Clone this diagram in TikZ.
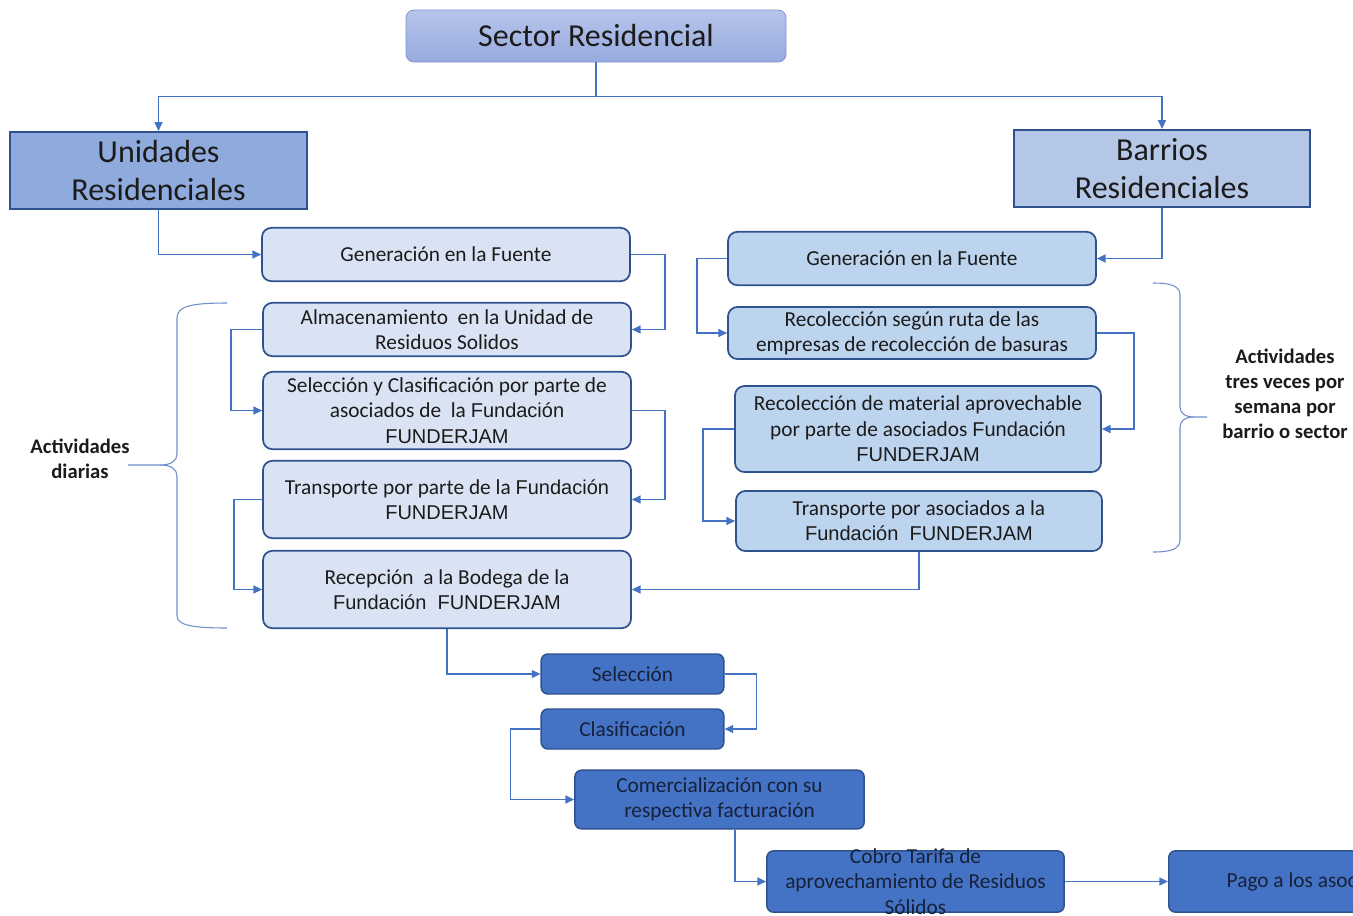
\documentclass[tikz,border=0pt]{standalone}
\usepackage{fontspec}
\setmainfont{Carlito}
\newfontfamily\arialfont{Liberation Sans}
\usepackage{tikz}
\usepackage{xcolor}
\usetikzlibrary{arrows.meta,positioning,calc}
\definecolor{ink}{HTML}{1B1B1B}
\definecolor{navyink}{HTML}{16213A}
\definecolor{edge}{HTML}{2F528F}
\definecolor{link}{HTML}{4472C4}
\definecolor{bracecol}{HTML}{6F8FCB}
\definecolor{roottop}{HTML}{B7C5EC}
\definecolor{rootbot}{HTML}{97AADE}
\definecolor{rootedge}{HTML}{7F93C8}
\definecolor{unidfill}{HTML}{8FAADC}
\definecolor{barrfill}{HTML}{B4C7E7}
\definecolor{dailyfill}{HTML}{DAE3F3}
\definecolor{weeklyfill}{HTML}{BDD4EE}
\definecolor{salefill}{HTML}{4472C4}
\newcommand{\fdn}[1]{{\arialfont\fontsize{15}{19}\selectfont #1}}
\tikzset{
  rootbox/.style={draw=rootedge, top color=roottop, bottom color=rootbot, rounded corners=6pt,
                  line width=0.6pt, text=ink, font=\fontsize{24}{28.5}\selectfont},
  groupbox/.style={draw=edge, line width=1.4pt, align=center, text=ink,
                   font=\fontsize{24}{28.5}\selectfont},
  dailybox/.style={draw=edge, fill=dailyfill, rounded corners=7pt, line width=1.3pt,
                   align=center, text=ink, minimum width=276pt, inner sep=2pt,
                   font=\fontsize{16}{19}\selectfont},
  weeklybox/.style={dailybox, fill=weeklyfill},
  salebox/.style={draw=edge, fill=salefill, rounded corners=5pt, line width=1.1pt,
                  align=center, text=navyink, inner sep=2pt, font=\fontsize{16}{19}\selectfont},
  link/.style={draw=link, line width=1pt},
  arrow/.style={link, -{Triangle[length=6.5pt,width=6pt]}},
  brace/.style={draw=bracecol, line width=0.8pt},
  note/.style={align=center, text=ink, font=\bfseries\fontsize{15.5}{18.7}\selectfont}
}
\begin{document}
\begin{tikzpicture}[x=0.75pt,y=-0.75pt]
  \useasboundingbox (0,0) rectangle (1353,915);
  \clip (0,0) rectangle (1353,915);

  % top of the tree
  \node[rootbox, minimum width=285pt, minimum height=39pt] (sector) at (596,36) {Sector Residencial};
  \node[groupbox, fill=unidfill, minimum width=223pt, minimum height=58pt] (unid) at (158.5,170.5) {Unidades\\Residenciales};
  \node[groupbox, fill=barrfill, minimum width=222pt, minimum height=58pt] (barr) at (1162,168.5) {Barrios\\Residenciales};
  \draw[arrow] (sector.south) -- ++(0,34) -| (unid.north);
  \draw[arrow] (sector.south) -- ++(0,34) -| (barr.north);

  % daily chain (left)
  \node[dailybox, minimum height=40pt] (genL) at (446,254.5) {Generación en la Fuente};
  \node[dailybox, minimum height=40pt] (alm) at (447,329.5) {Almacenamiento~ en la Unidad de\\Residuos Solidos};
  \node[dailybox, minimum height=58pt] (selc) at (447,410.5) {Selección y Clasificación por parte de\\asociados de~ la \fdn{Fundación}\\\fdn{FUNDERJAM}};
  \node[dailybox, minimum height=58pt] (traL) at (447,499.5) {Transporte por parte de la \fdn{Fundación}\\\fdn{FUNDERJAM}};
  \node[dailybox, minimum height=58pt] (recep) at (447,589.5) {Recepción~ a la Bodega de la\\\fdn{Fundación~ FUNDERJAM}};
  \draw[arrow] (unid.south) |- (genL.west);
  \draw[arrow] (genL.east) -- ++(34,0) |- (alm.east);
  \draw[arrow] (alm.west) -- ++(-31,0) |- (selc.west);
  \draw[arrow] (selc.east) -- ++(33,0) |- (traL.east);
  \draw[arrow] (traL.west) -- ++(-28,0) |- (recep.west);

  % weekly chain (right)
  \node[weeklybox, minimum height=40pt] (genR) at (912,258.5) {Generación en la Fuente};
  \node[weeklybox, minimum height=39pt] (recol) at (912,333) {Recolección según ruta de las\\empresas de recolección de basuras};
  \node[weeklybox, minimum width=274.5pt, minimum height=64.5pt] (mat) at (918,429) {Recolección de material aprovechable\\por parte de asociados \fdn{Fundación}\\\fdn{FUNDERJAM}};
  \node[weeklybox, minimum width=274.5pt, minimum height=45pt] (traR) at (919,521) {Transporte por asociados a la\\\fdn{Fundación~ FUNDERJAM}};
  \draw[arrow] (barr.south) |- (genR.east);
  \draw[arrow] (genR.west) -- ++(-30,0) |- (recol.west);
  \draw[arrow] (recol.east) -- ++(37,0) |- (mat.east);
  \draw[arrow] (mat.west) -- ++(-31,0) |- (traR.west);
  \draw[arrow] (traR.south) |- (recep.east);

  % braces
  \node[note] (diarias) at (80,459) {Actividades\\diarias};
  \draw[brace] (227,303) .. controls (192,303) and (177,306) .. (177,318) -- (177,454)
    .. controls (177,461) and (171,465) .. (160,465) -- (128,465);
  \draw[brace] (160,465) .. controls (171,465) and (177,469) .. (177,476) -- (177,616)
    .. controls (177,625) and (192,628) .. (227,628);
  \node[note] (semanal) at (1285,394) {Actividades\\tres veces por\\semana por\\barrio o sector};
  \draw[brace] (1153,283) .. controls (1171,283) and (1180,286) .. (1180,295) -- (1180,407)
    .. controls (1180,413) and (1185,417) .. (1194,417) -- (1207,417);
  \draw[brace] (1194,417) .. controls (1185,417) and (1180,421) .. (1180,427) -- (1180,540)
    .. controls (1180,549) and (1171,552) .. (1153,552);

  % sale chain (bottom)
  \node[salebox, minimum width=137pt, minimum height=30pt] (selec) at (632.5,674) {Selección};
  \node[salebox, minimum width=137pt, minimum height=30pt] (clas) at (632.5,729) {Clasificación};
  \node[salebox, minimum width=217pt, minimum height=44pt] (comer) at (719.5,799.5) {Comercialización con su\\respectiva facturación};
  \node[salebox, minimum width=223pt, minimum height=46pt,
        label={[align=center, text=navyink, font=\fontsize{16}{19}\selectfont]center:{Cobro Tarifa de\\aprovechamiento de Residuos\\Sólidos}}] (cobro) at (915.5,881.5) {};
  \node[salebox, anchor=west, minimum height=46pt, inner xsep=43.5pt] (pago) at (1168,881.5) {\makebox[120pt][l]{Pago a los asoc}};
  \draw[arrow] (recep.south) |- (selec.west);
  \draw[arrow] (selec.east) -- ++(32,0) |- (clas.east);
  \draw[arrow] (clas.west) -- ++(-30,0) |- (comer.west);
  \draw[arrow] ([xshift=11.6pt]comer.south) |- (cobro.west);
  \draw[arrow] (cobro.east) -- (pago.west);
\end{tikzpicture}
\end{document}
